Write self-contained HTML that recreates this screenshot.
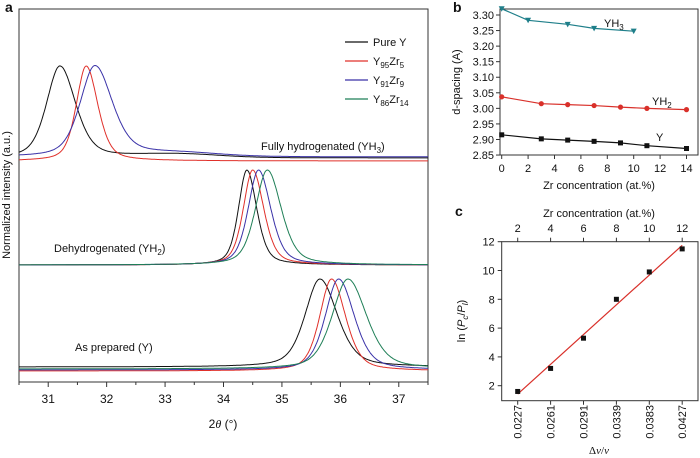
<!DOCTYPE html>
<html><head><meta charset="utf-8"><style>
body{margin:0;background:#fff}
svg{display:block;font-family:"Liberation Sans",sans-serif}
</style></head><body>
<svg id="fig" width="700" height="458" viewBox="0 0 700 458"></svg>
<script>
// Panel a data
var aSeries = ["Pure Y","Y95Zr5","Y91Zr9","Y86Zr14"];
var aColors = ["#111","#e0302a","#3a32a8","#1f7f57"];
var yh3Centers = [31.2, 31.65, 31.8, null];
var yh2Centers = [34.4, 34.5, 34.6, 34.75];
var yCenters = [35.65, 35.85, 35.97, 36.13];
var yh3Widths = [0.27, 0.2, 0.3, null];
var yh2Widths = [0.17, 0.19, 0.21, 0.24];
var yWidths = [0.3, 0.24, 0.27, 0.32];
var yh3Offsets = [3, 0, 4, 0];
var yh2Offsets = [0, 0, 0, 0];
var yOffsets = [4, 0, 1, 2];
var aTicks = [31,32,33,34,35,36,37];
// Panel b data
var bYH3x = [0,2,5,7,10];
var bYH3 = [3.32,3.283,3.27,3.257,3.248];
var bYH2x = [0,3,5,7,9,11,14];
var bYH2 = [3.037,3.015,3.012,3.009,3.004,3.0,2.996];
var bYx = [0,3,5,7,9,11,14];
var bYv = [2.915,2.902,2.898,2.894,2.889,2.880,2.871];
var bYTicks = [2.85,2.90,2.95,3.00,3.05,3.10,3.15,3.20,3.25,3.30];
var bXTicks = [0,2,4,6,8,10,12,14];
// Panel c data
var cCats = ["0.0227","0.0261","0.0291","0.0339","0.0383","0.0427"];
var cTop = [2,4,6,8,10,12];
var cVals = [1.6,3.2,5.3,8.0,9.9,11.5];
var cYTicks = [2,4,6,8,10,12];

var svgEl = document.getElementById('fig');
var NS = "http://www.w3.org/2000/svg";
function mk(tag, attrs, parent){
  var e=document.createElementNS(NS,tag);
  for(var k in attrs) e.setAttribute(k,String(attrs[k]));
  (parent||svgEl).appendChild(e);
  return e;
}
function txt(x,y,segs,size,anchor,name,extra){
  var a={x:x,y:y,'font-size':size,'text-anchor':anchor||'middle',fill:'#111'};
  if(extra){for(var k in extra)a[k]=extra[k];}
  var t=mk('text',a);
  if(!Array.isArray(segs)) segs=[String(segs)];
  segs.forEach(function(s){
    if(typeof s==='string'){
      var ts=mk('tspan',{},t); ts.textContent=s;
    } else {
      var ts2=mk('tspan',s[1],t); ts2.textContent=s[0];
    }
  });
  
  
  return t;
}
function sub(s){return [s,{'font-size':8,dy:3}];}
function up(s){return [s,{dy:-3}];}

// ---------- Panel a ----------
function ax(v){return 19 + (v-30.5)/7*409;}
var aL=19,aR=428,aT=9,aB=382;
var g = mk('g',{});


var r = mk('rect',{x:aL,y:aT,width:aR-aL,height:aB-aT,fill:'none',stroke:'#333','stroke-width':1},g);


for(var v=30.5; v<=37.51; v+=0.5){var X=ax(v);var major=Math.abs(v-Math.round(v))<0.01;mk('line',{x1:X,x2:X,y1:aB,y2:aB+(major?5:3),stroke:'#333'},g);}
aTicks.forEach(function(v){txt(ax(v),403,v,12,'middle','x-tick-label');});
txt(223,428,['2',['θ',{'font-style':'italic','font-family':'Liberation Serif'}],' (°)'],12,'middle','x-axis-title');
txt(10,195,'Normalized intensity (a.u.)',11,'middle','y-axis-title',{transform:'rotate(-90 10 195)'});
txt(5,12,'a',14,'start','panel-a-label',{'font-weight':'bold'});
function drawGroup(centers,widths,offsets,base,height,name,tailBump){
  centers.forEach(function(c,i){
    if(c===null) return;
    var w=widths[i];var d='';
    for(var k=0;k<=500;k++){
      var vv=30.5+7*k/500;
      var u=(vv-c)/w;
      if(u>0) u=u*0.85;
      var gauss=Math.exp(-0.693*u*u), lor=1/(1+u*u);
      var val=0.55*gauss+0.45*lor;
      if(tailBump && i!==1) val+=0.04*Math.exp(-Math.pow((vv-33.2)/1.0,2));
      var Y=base-offsets[i]-val*(height-offsets[i]);
      d+=(k?'L':'M')+ax(vv).toFixed(1)+' '+Y.toFixed(1);
    }
    var p=mk('path',{d:d,fill:'none',stroke:aColors[i],'stroke-width':1},g);
    
    
  });
}
drawGroup(yh3Centers,yh3Widths,yh3Offsets,161,95,'yh3-peak',true);
drawGroup(yh2Centers,yh2Widths,yh2Offsets,265,95,'yh2-peak',false);
drawGroup(yCenters,yWidths,yOffsets,371,92,'y-peak',false);
txt(261,150,['Fully hydrogenated (YH',sub('3'),up(')')],11,'start','label-yh3');
txt(54,252,['Dehydrogenated (YH',sub('2'),up(')')],11,'start','label-yh2');
txt(75,351,'As prepared (Y)',11,'start','label-y');
var legLabels=[['Pure Y'],['Y',sub('95'),up('Zr'),sub('5')],['Y',sub('91'),up('Zr'),sub('9')],['Y',sub('86'),up('Zr'),sub('14')]];
aSeries.forEach(function(s,i){var Y=42+i*19;var l=mk('line',{x1:345,x2:368,y1:Y,y2:Y,stroke:aColors[i],'stroke-width':1.2},g);
  
  
  txt(373,Y+4,legLabels[i],11,'start','legend-entry');});

// ---------- Panel b ----------
var bL=500,bR=698,bT=9,bB=155;
function bx(v){return 501.7+v*13.2;}
function by(v){return 15+(3.30-v)/0.05*15.56;}
r=mk('rect',{x:bL,y:bT,width:bR-bL,height:bB-bT,fill:'none',stroke:'#333'});


bYTicks.forEach(function(v){mk('line',{x1:bL-4,x2:bL,y1:by(v),y2:by(v),stroke:'#333'});txt(bL-6,by(v)+4,v.toFixed(2),11,'end','b-y-tick-label');});
bXTicks.forEach(function(v){mk('line',{x1:bx(v),x2:bx(v),y1:bB,y2:bB+4,stroke:'#333'});txt(bx(v),172,v,11,'middle','b-x-tick-label');});
txt(599,189,'Zr concentration (at.%)',11,'middle','b-x-axis-title');
txt(460,82,'d-spacing (A)',11,'middle','b-y-axis-title',{transform:'rotate(-90 460 82)'});
txt(453,12,'b',14,'start','panel-b-label',{'font-weight':'bold'});
function bSeries(xs,ys,color,marker,name){
  var pl=mk('polyline',{points:xs.map(function(x,i){return bx(x)+','+by(ys[i]);}).join(' '),fill:'none',stroke:color,'stroke-width':1.2});
  
  
  xs.forEach(function(x,i){var X=bx(x),Y=by(ys[i]);var m;
    if(marker==='tri') m=mk('polygon',{points:(X-3)+','+(Y-2.5)+' '+(X+3)+','+(Y-2.5)+' '+X+','+(Y+3),fill:color});
    else if(marker==='circ') m=mk('circle',{cx:X,cy:Y,r:2.6,fill:color});
    else m=mk('rect',{x:X-2.5,y:Y-2.5,width:5,height:5,fill:color});
    
    });
}
bSeries(bYH3x,bYH3,'#1f7f8a','tri','yh3');
bSeries(bYH2x,bYH2,'#d9302a','circ','yh2');
bSeries(bYx,bYv,'#111','sq','y');
txt(604,27,['YH',sub('3')],11,'start','yh3-label');
txt(652,105,['YH',sub('2')],11,'start','yh2-label');
txt(656,141,'Y',11,'start','y-series-label');

// ---------- Panel c ----------
var cL=501.7,cR=698,cT=241.7,cB=400.7;
function cxp(i){return 517.7+i*32.9;}
function cyp(v){return 241.7+(12-v)*14.4;}
r=mk('rect',{x:cL,y:cT,width:cR-cL,height:cB-cT,fill:'none',stroke:'#333'});


cYTicks.forEach(function(v){mk('line',{x1:cL-4,x2:cL,y1:cyp(v),y2:cyp(v),stroke:'#333'});txt(cL-7,cyp(v)+4,v,11,'end','c-y-tick-label');});
cCats.forEach(function(c,i){
  mk('line',{x1:cxp(i),x2:cxp(i),y1:cB,y2:cB+4,stroke:'#333'});
  mk('line',{x1:cxp(i),x2:cxp(i),y1:cT,y2:cT-4,stroke:'#333'});
  txt(cxp(i)+4,405,c,11,'end','c-x-tick-label',{transform:'rotate(-90 '+(cxp(i)+4)+' 405)'});
  txt(cxp(i),232,cTop[i],11,'middle','c-top-tick-label');});
txt(599,217,'Zr concentration (at.%)',11,'middle','c-top-axis-title');
txt(599,454,['Δ',['v',{'font-style':'italic'}],'/',['v',{'font-style':'italic'}]],11,'middle','c-x-axis-title',{'font-family':'Liberation Serif'});
txt(465,321,['ln (',['P',{'font-style':'italic'}],['c',{'font-size':8,dy:3,'font-style':'italic'}],up('/'),['P',{'font-style':'italic'}],['l',{'font-size':8,dy:3,'font-style':'italic'}],up(')')],11,'middle','c-y-axis-title',{transform:'rotate(-90 465 321)'});
txt(455,216,'c',14,'start','panel-c-label',{'font-weight':'bold'});
var n=cVals.length,sx=0,sy=0,sxx=0,sxy=0;
cVals.forEach(function(v,i){sx+=i;sy+=v;sxx+=i*i;sxy+=i*v;});
var slope=(n*sxy-sx*sy)/(n*sxx-sx*sx),icpt=(sy-slope*sx)/n;
var fl=mk('line',{x1:cxp(0),y1:cyp(icpt),x2:cxp(n-1),y2:cyp(icpt+slope*(n-1)),stroke:'#d9302a','stroke-width':1.2});


cVals.forEach(function(v,i){var m=mk('rect',{x:cxp(i)-2.5,y:cyp(v)-2.5,width:5,height:5,fill:'#111'});
  
  });
</script>
</body></html>
